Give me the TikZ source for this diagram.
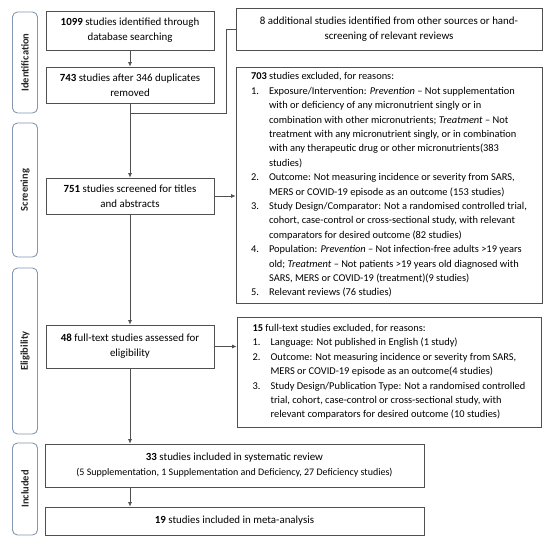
\documentclass[tikz,border=0pt]{standalone}
\usepackage{fontspec}
\setmainfont{Carlito}
\usetikzlibrary{arrows.meta}
\definecolor{lc}{HTML}{505050}
\definecolor{pc}{HTML}{8497B0}
\newcommand{\li}[1]{\makebox[18pt][l]{#1}}
\newcommand{\ct}{\hspace*{18pt}}
\begin{document}
\begin{tikzpicture}[x=1pt,y=-1pt,
  box/.style={draw=lc, line width=0.8pt, inner sep=3pt, align=center,
    font=\fontsize{10.9}{15}\selectfont, text=black},
  exbox/.style={draw=lc, line width=0.8pt, inner sep=5pt, align=left,
    font=\fontsize{10.4}{14.4}\selectfont, text=black},
  phase/.style={draw=pc, line width=0.9pt, rounded corners=5pt, rotate=90,
    minimum height=25pt, inner sep=0pt, font=\fontsize{10.5}{12}\selectfont\bfseries, text=black!85},
  arr/.style={draw=lc, line width=0.7pt, -{Latex[length=4.5pt,width=4pt]}},
  ln/.style={draw=lc, line width=0.7pt}]
\useasboundingbox (0,0) rectangle (550,545);
% phases
\node[phase, minimum width=101pt] (pid) at (25,62.5) {Identification};
\node[phase, minimum width=134pt] (psc) at (25,190) {Screening};
\node[phase, minimum width=166pt] (pel) at (25,351) {Eligibility};
\node[phase, minimum width=92pt] (pin) at (25,489) {Included};
% main boxes
\node[box, minimum width=168pt, minimum height=39pt] (b1) at (130,30.5) {\textbf{1099} studies identified through\\database searching};
\node[box, minimum width=168pt, minimum height=36pt] (b2) at (130,85) {\textbf{743} studies after 346 duplicates\\removed};
\node[box, minimum width=306pt, minimum height=42pt] (badd) at (389,29) {8 additional studies identified from other sources or hand-\\screening of relevant reviews};
\node[box, minimum width=168pt, minimum height=36pt] (b751) at (130,196) {\textbf{751} studies screened for titles\\and abstracts};
\node[box, minimum width=168pt, minimum height=43pt] (b48) at (130,346.5) {\textbf{48} full-text studies assessed for\\eligibility};
\node[box, minimum width=379pt, minimum height=43pt] (b33) at (234.5,465.5) {\textbf{33} studies included in systematic review\\{\fontsize{10}{14}\selectfont(5 Supplementation, 1 Supplementation and Deficiency, 27 Deficiency studies)}};
\node[box, minimum width=379pt, minimum height=28pt] (b19) at (234.5,521) {\textbf{19} studies included in meta-analysis};
% exclusion boxes
\node[exbox, minimum width=306pt, minimum height=236pt] (ex1) at (389,185) {%
\textbf{703} studies excluded, for reasons:\\
\li{1.}Exposure/Intervention: \textit{Prevention} -- Not supplementation\\
\ct with or deficiency of any micronutrient singly or in\\
\ct combination with other micronutrients; \textit{Treatment} -- Not\\
\ct treatment with any micronutrient singly, or in combination\\
\ct with any therapeutic drug or other micronutrients(383\\
\ct studies)\\
\li{2.}Outcome: Not measuring incidence or severity from SARS,\\
\ct MERS or COVID-19 episode as an outcome (153 studies)\\
\li{3.}Study Design/Comparator: Not a randomised controlled trial,\\
\ct cohort, case-control or cross-sectional study, with relevant\\
\ct comparators for desired outcome (82 studies)\\
\li{4.}Population: \textit{Prevention} -- Not infection-free adults >19 years\\
\ct old; \textit{Treatment} -- Not patients >19 years old diagnosed with\\
\ct SARS, MERS or COVID-19 (treatment)(9 studies)\\
\li{5.}Relevant reviews (76 studies)};
\node[exbox, minimum width=304pt, minimum height=110pt] (ex2) at (389,372) {%
\textbf{15} full-text studies excluded, for reasons:\\
\li{1.}Language: Not published in English (1 study)\\
\li{2.}Outcome: Not measuring incidence or severity from SARS,\\
\ct MERS or COVID-19 episode as an outcome(4 studies)\\
\li{3.}Study Design/Publication Type: Not a randomised controlled\\
\ct trial, cohort, case-control or cross-sectional study, with\\
\ct relevant comparators for desired outcome (10 studies)};
% connectors
\coordinate (j) at (b2.south |- 0,113);
\coordinate (k) at (226,113);
\draw[arr] (b1) -- (b2);
\draw[arr] (b2) -- (b751);
\draw[ln] (badd.west) -| (k) -- (j);
\draw[arr] (b751.east) -- (ex1.west |- b751.east);
\draw[arr] (b751) -- (b48);
\draw[arr] (b48.east) -- (ex2.west |- b48.east);
\draw[arr] (b48.south) -- (b48.south |- b33.north);
\draw[arr] (b33.south -| b48.south) -- (b48.south |- b19.north);
\end{tikzpicture}
\end{document}
